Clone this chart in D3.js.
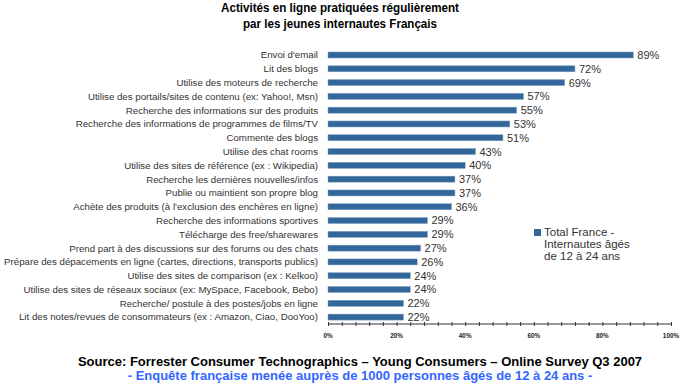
<!DOCTYPE html>
<html>
<head>
<meta charset="utf-8">
<script src="https://cdn.jsdelivr.net/npm/d3@7"></script>
<style>
  body { margin: 0; background: #fff; }
  svg { display: block; }
</style>
</head>
<body>
<div id="chart"></div>
<script>
// ------ data
var categories = [
  "Envoi d'email",
  "Lit des blogs",
  "Utilise des moteurs de recherche",
  "Utilise des portails/sites de contenu (ex: Yahoo!, Msn)",
  "Recherche des informations sur des produits",
  "Recherche des informations de programmes de films/TV",
  "Commente des blogs",
  "Utilise des chat rooms",
  "Utilise des sites de référence (ex : Wikipedia)",
  "Recherche les dernières nouvelles/infos",
  "Publie ou maintient son propre blog",
  "Achète des produits (à l'exclusion des enchères en ligne)",
  "Recherche des informations sportives",
  "Télécharge des free/sharewares",
  "Prend part à des discussions sur des forums ou des chats",
  "Prépare des dépacements en ligne (cartes, directions, transports publics)",
  "Utilise des sites de comparison (ex : Kelkoo)",
  "Utilise des sites de réseaux sociaux (ex: MySpace, Facebook, Bebo)",
  "Recherche/ postule à des postes/jobs en ligne",
  "Lit des notes/revues de consommateurs (ex : Amazon, Ciao, DooYoo)"
];
var values = [89, 72, 69, 57, 55, 53, 51, 43, 40, 37, 37, 36, 29, 29, 27, 26, 24, 24, 22, 22];
var tickLabels = ["0%", "20%", "40%", "60%", "80%", "100%"];
var titleLines = ["Activités en ligne pratiquées régulièrement", "par les jeunes internautes Français"];
var legendLines = ["Total France -", "Internautes âgés", "de 12 à 24 ans"];
var sourceLine = "Source: Forrester Consumer Technographics \u2013 Young Consumers \u2013 Online Survey Q3 2007";
var noteLine = "- Enquête française menée auprès de 1000 personnes âgés de 12 à 24 ans -";

var barColor = "#336699";
var textGrey = "#333333";
var sans = "'Liberation Sans', Arial, sans-serif";

const width = 680, height = 386;

const svg = d3.select("#chart")
  .append("svg")
  .attr("width", width)
  .attr("height", height);

// scales
const x = d3.scaleLinear().domain([0, 100]).range([328, 671]);
const y = d3.scaleBand()
  .domain(categories)
  .range([48.1, 324])
  .paddingInner(0.565)
  .paddingOuter(0.2825);

// title (condensed look: squeeze bold text to the reference width)
var titleWidths = [238, 194];
svg.append("g").selectAll("text")
  .data(titleLines)
  .enter().append("text")
  .attr("x", 340)
  .attr("y", (d, i) => 12 + i * 16)
  .attr("text-anchor", "middle")
  .attr("textLength", (d, i) => titleWidths[i])
  .attr("lengthAdjust", "spacingAndGlyphs")
  .style("font-family", sans)
  .style("font-weight", "bold")
  .style("font-size", "13px")
  .style("fill", "#000")
  .text(d => d);

// category labels
svg.append("g").selectAll("text")
  .data(categories)
  .enter().append("text")
  .attr("x", 318)
  .attr("y", d => y(d) + y.bandwidth() / 2)
  .attr("dy", "0.35em")
  .attr("text-anchor", "end")
  .style("font-family", sans)
  .style("font-size", "9.7px")
  .style("fill", textGrey)
  .text(d => d);

// bars
svg.append("g").selectAll("rect")
  .data(values)
  .enter().append("rect")
  .attr("x", x(0))
  .attr("y", (d, i) => y(categories[i]))
  .attr("width", d => x(d) - x(0))
  .attr("height", y.bandwidth())
  .attr("fill", barColor)
  .attr("stroke", "#7f9fc4")
  .attr("stroke-width", 0.5);

// value labels
svg.append("g").selectAll("text")
  .data(values)
  .enter().append("text")
  .attr("x", d => x(d) + 4)
  .attr("y", (d, i) => y(categories[i]) + y.bandwidth() / 2)
  .attr("dy", "0.36em")
  .style("font-family", sans)
  .style("font-size", "11px")
  .style("fill", textGrey)
  .text(d => d + "%");

// x axis
const axis = svg.append("g")
  .attr("transform", "translate(0,324)")
  .call(d3.axisBottom(x).tickValues(d3.range(0, 101, 4)).tickSize(2).tickFormat(""));
axis.select(".domain").attr("stroke", "#333").attr("d", "M" + x(0) + ",0H" + x(100));
axis.selectAll(".tick line").attr("stroke", "#333").attr("y1", -2).attr("y2", 2);

svg.append("g").selectAll("text")
  .data(tickLabels)
  .enter().append("text")
  .attr("x", (d, i) => x(i * 20))
  .attr("y", 338)
  .attr("text-anchor", "middle")
  .attr("transform", (d, i) => "translate(" + x(i * 20) + ",0) scale(0.85,1) translate(" + (-x(i * 20)) + ",0)")
  .style("font-family", sans)
  .style("font-weight", "bold")
  .style("font-size", "7.5px")
  .style("fill", "#222")
  .text(d => d);

// legend
svg.append("rect")
  .attr("x", 534).attr("y", 229)
  .attr("width", 7).attr("height", 7)
  .attr("fill", barColor);
svg.append("g").selectAll("text")
  .data(legendLines)
  .enter().append("text")
  .attr("x", 544)
  .attr("y", (d, i) => 236 + i * 12)
  .style("font-family", sans)
  .style("font-size", "11.5px")
  .style("fill", textGrey)
  .text(d => d);

// source
svg.append("text")
  .attr("x", 360).attr("y", 366)
  .attr("text-anchor", "middle")
  .style("font-family", sans)
  .style("font-weight", "bold")
  .style("font-size", "13px")
  .style("fill", "#000")
  .text(sourceLine);
svg.append("text")
  .attr("x", 360).attr("y", 380)
  .attr("text-anchor", "middle")
  .style("font-family", sans)
  .style("font-weight", "bold")
  .style("font-size", "13px")
  .style("fill", "#3366ff")
  .text(noteLine);
</script>
</body>
</html>
